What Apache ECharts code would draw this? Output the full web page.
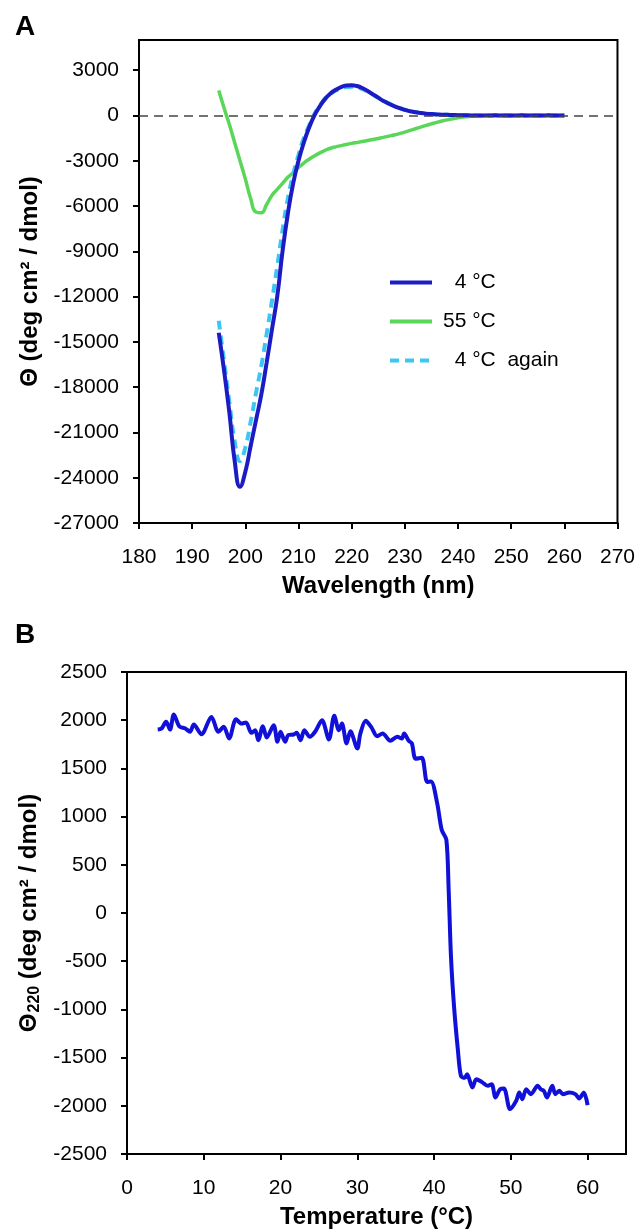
<!DOCTYPE html>
<html>
<head>
<meta charset="utf-8">
<script src="https://cdn.jsdelivr.net/npm/echarts@6/dist/echarts.min.js"></script>
<style>
html,body{margin:0;padding:0;background:#fff;}
#c{width:638px;height:1230px;}
</style>
</head>
<body>
<div id="c"></div>
<script>
// ---- Panel A data (CD spectra) ----
const wavelengths = [195,196,197,198,199,200,201,202,203,204,205,206,207,208,209,210,211,212,213,214,215,216,217,218,219,220,221,222,223,224,225,226,227,228,229,230,231,232,233,234,235,236,237,238,239,240,241,242,243,244,245,246,247,248,249,250,251,252,253,254,255,256,257,258,259,260];
const theta4C = [-14400,-16900,-19700,-22900,-24600,-23600,-21900,-20200,-18500,-16400,-14200,-12000,-9000,-6500,-4500,-3000,-1800,-800,0,600,1100,1450,1700,1880,1980,2000,1950,1820,1620,1400,1180,960,780,620,480,370,280,210,160,120,90,70,50,40,30,20,10,10,0,0,-10,0,10,0,-10,0,0,10,0,-10,0,0,10,0,0,0];
const theta55C = [1650,500,-600,-1800,-3000,-4200,-5500,-6400,-6450,-5900,-5300,-4900,-4500,-4100,-3800,-3450,-3150,-2900,-2680,-2480,-2310,-2170,-2080,-2000,-1920,-1850,-1790,-1730,-1660,-1590,-1520,-1450,-1370,-1290,-1200,-1100,-990,-880,-770,-660,-560,-460,-370,-290,-220,-160,-110,-70,-40,-20,-10,0,0,0,0,0,0,0,0,0,0,0,0,0,0,0];
const theta4Cagain = [-13600,-16300,-19000,-21600,-22900,-22000,-20300,-18400,-16600,-14500,-12300,-10000,-7600,-5500,-3900,-2600,-1500,-650,100,650,1100,1420,1650,1800,1880,1900,1860,1750,1580,1380,1170,970,800,640,500,390,290,220,170,130,95,70,50,40,30,20,10,10,0,0,-10,0,10,0,-10,0,0,10,0,-10,0,0,10,0,0,0];
const yTicksA = [-27000,-24000,-21000,-18000,-15000,-12000,-9000,-6000,-3000,0,3000];
const xTicksA = [180,190,200,210,220,230,240,250,260,270];

// ---- Panel B data (thermal melt at 220 nm) ----
const temps = [4.0,4.5,5.1,5.6,6.1,6.8,7.6,8.2,8.7,9.7,11.0,11.9,12.6,13.3,14.2,14.9,15.5,16.2,16.7,17.1,17.7,18.2,19.1,19.6,20.0,20.6,21.0,21.7,22.1,22.6,23.1,23.8,24.5,25.4,26.3,27.0,27.6,28.0,28.6,29.1,30.0,30.4,31.1,31.8,32.6,33.3,34.3,35.2,35.8,36.1,36.7,37.1,37.6,38.4,39.1,39.6,40.4,41.0,41.6,41.9,42.2,42.6,43.1,43.5,44.0,44.3,45.0,45.5,46.2,47.0,47.5,48.0,48.6,49.1,49.9,50.7,51.1,51.5,52.0,52.6,53.5,53.9,54.3,54.7,55.4,55.8,56.3,56.8,57.6,58.4,58.9,59.5,60.0];
const theta220 = [1903,1914,1983,1903,2059,1938,1914,1880,1955,1855,2034,1880,1931,1810,2010,1965,1976,1869,1896,1793,1938,1821,1948,1776,1880,1776,1845,1852,1869,1793,1896,1828,1880,2000,1800,2045,1896,1965,1759,1886,1707,1862,1993,1931,1834,1862,1786,1828,1810,1862,1786,1760,1600,1610,1360,1365,1140,860,760,240,-450,-970,-1420,-1690,-1710,-1672,-1810,-1724,-1752,-1793,-1776,-1914,-1828,-1821,-2034,-1948,-1862,-1931,-1828,-1879,-1793,-1828,-1845,-1914,-1793,-1879,-1845,-1879,-1862,-1879,-1924,-1862,-1993];
const yTicksB = [-2500,-2000,-1500,-1000,-500,0,500,1000,1500,2000,2500];
const xTicksB = [0,10,20,30,40,50,60];

const FONT = '"Liberation Sans", Arial, Helvetica, sans-serif';
const pair = (xs, ys) => xs.map((x, i) => [x, ys[i]]);
const plain = v => String(v);

const axisCommon = {
  axisLine: { show: true, onZero: false, lineStyle: { color: '#000', width: 2 } },
  axisTick: { show: true, inside: false, length: 6, lineStyle: { color: '#000', width: 2 } },
  splitLine: { show: false },
  nameTextStyle: { fontFamily: FONT, fontSize: 24, fontWeight: 'bold', color: '#000' }
};
const labelStyle = { fontFamily: FONT, fontSize: 21, color: '#000', formatter: plain };

const chart = echarts.init(document.getElementById('c'), null, { renderer: 'canvas' });
chart.setOption({
  backgroundColor: '#fff',
  animation: false,
  title: [
    { text: 'A', left: 10, top: 8, textStyle: { fontFamily: FONT, fontSize: 28, fontWeight: 'bold', color: '#000' } },
    { text: 'B', left: 10, top: 616, textStyle: { fontFamily: FONT, fontSize: 28, fontWeight: 'bold', color: '#000' } }
  ],
  grid: [
    { left: 139, top: 40, width: 480, height: 483, show: true, borderColor: '#000', borderWidth: 2, backgroundColor: 'transparent' },
    { left: 127, top: 672, width: 499, height: 482, show: true, borderColor: '#000', borderWidth: 2, backgroundColor: 'transparent' }
  ],
  legend: {
    data: ['  4 °C', '55 °C', '  4 °C  again'],
    orient: 'vertical',
    left: 383,
    top: 267,
    itemWidth: 42,
    itemHeight: 14,
    itemGap: 18,
    itemStyle: { opacity: 0 },
    lineStyle: { width: 4 },
    textStyle: { fontFamily: FONT, fontSize: 21, color: '#000', padding: [0, 0, 0, 6] }
  },
  xAxis: [
    Object.assign({}, axisCommon, {
      type: 'value', gridIndex: 0, min: 180, max: 270,
      name: 'Wavelength (nm)', nameLocation: 'middle', nameGap: 51,
      axisTick: Object.assign({}, axisCommon.axisTick, { customValues: xTicksA }),
      axisLabel: Object.assign({}, labelStyle, { margin: 24, customValues: xTicksA })
    }),
    Object.assign({}, axisCommon, {
      type: 'value', gridIndex: 1, min: 0, max: 65,
      name: 'Temperature (°C)', nameLocation: 'middle', nameGap: 51,
      axisTick: Object.assign({}, axisCommon.axisTick, { customValues: xTicksB }),
      axisLabel: Object.assign({}, labelStyle, { margin: 24, customValues: xTicksB })
    })
  ],
  yAxis: [
    Object.assign({}, axisCommon, {
      type: 'value', gridIndex: 0, min: -27000, max: 5000,
      name: 'Θ (deg cm² / dmol)', nameLocation: 'middle', nameRotate: 90, nameGap: 91,
      axisTick: Object.assign({}, axisCommon.axisTick, { customValues: yTicksA }),
      axisLabel: Object.assign({}, labelStyle, { margin: 20, customValues: yTicksA })
    }),
    Object.assign({}, axisCommon, {
      type: 'value', gridIndex: 1, min: -2500, max: 2500,
      name: '{t|Θ}{s|220}{t| (deg cm² / dmol)}', nameLocation: 'middle', nameRotate: 90, nameGap: 79,
      nameTextStyle: {
        fontFamily: FONT, fontSize: 24, fontWeight: 'bold', color: '#000',
        rich: {
          t: { fontFamily: FONT, fontSize: 24, fontWeight: 'bold', color: '#000' },
          s: { fontFamily: FONT, fontSize: 16, fontWeight: 'bold', color: '#000', verticalAlign: 'bottom', padding: [10, 0, 0, 1] }
        }
      },
      axisTick: Object.assign({}, axisCommon.axisTick, { customValues: yTicksB }),
      axisLabel: Object.assign({}, labelStyle, { margin: 20, customValues: yTicksB })
    })
  ],
  series: [
    {
      name: '55 °C', type: 'line', xAxisIndex: 0, yAxisIndex: 0, z: 2,
      data: pair(wavelengths, theta55C), smooth: true, symbol: 'none', showSymbol: false,
      lineStyle: { color: '#5ad65a', width: 3.5 }, itemStyle: { color: '#5ad65a' },
      markLine: {
        silent: true, symbol: ['none', 'none'], label: { show: false },
        lineStyle: { color: '#444', width: 1.5, type: [9, 6] },
        data: [{ yAxis: 0 }]
      }
    },
    {
      name: '  4 °C  again', type: 'line', xAxisIndex: 0, yAxisIndex: 0, z: 3,
      data: pair(wavelengths, theta4Cagain), smooth: true, symbol: 'none', showSymbol: false,
      lineStyle: { color: '#3ec6f2', width: 4, type: [9, 6] }, itemStyle: { color: '#3ec6f2' }
    },
    {
      name: '  4 °C', type: 'line', xAxisIndex: 0, yAxisIndex: 0, z: 4,
      data: pair(wavelengths, theta4C), smooth: true, symbol: 'none', showSymbol: false,
      lineStyle: { color: '#1c1cc4', width: 4 }, itemStyle: { color: '#1c1cc4' }
    },
    {
      name: 'melt', type: 'line', xAxisIndex: 1, yAxisIndex: 1, z: 3,
      data: pair(temps, theta220), smooth: 0.3, symbol: 'none', showSymbol: false,
      lineStyle: { color: '#1010d8', width: 4 }, itemStyle: { color: '#1010d8' }
    }
  ]
});
</script>
</body>
</html>
